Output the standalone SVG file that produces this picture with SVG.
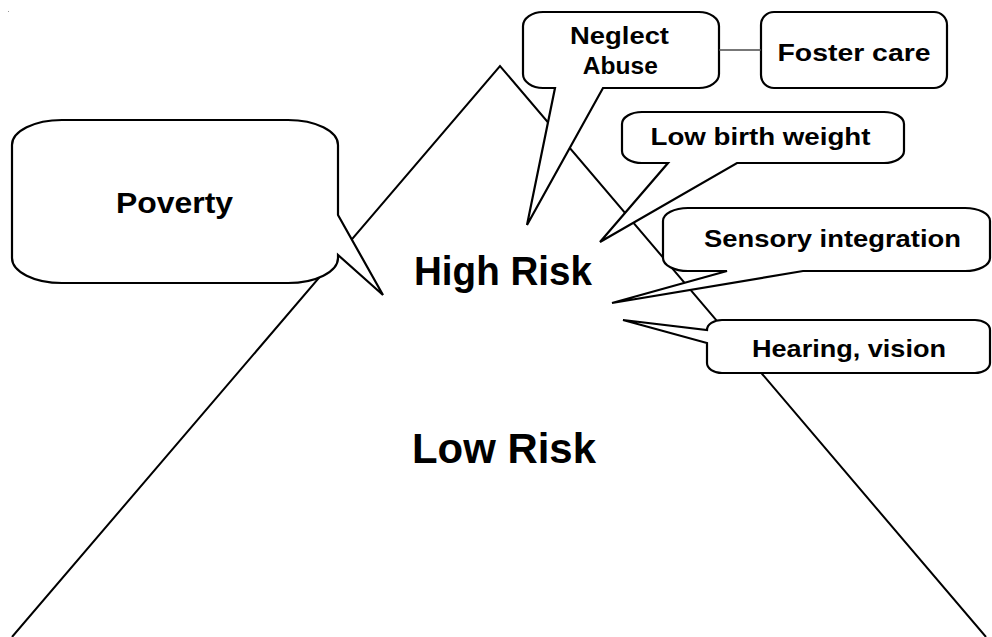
<svg xmlns="http://www.w3.org/2000/svg" width="992" height="637" viewBox="0 0 992 637">
<style>
.bg{fill:#ffffff}
.tri{fill:none;stroke:#000;stroke-width:2;stroke-linejoin:miter}
.call{fill:#ffffff;stroke:#000;stroke-width:2.2;stroke-linejoin:miter}
.conn{stroke:#4a4a4a;stroke-width:1.6;fill:none}
text{font-family:"Liberation Sans",Arial,sans-serif;font-weight:bold;fill:#000;text-anchor:middle}
.big{font-size:41px}
.mid{font-size:30px}
.sm{font-size:23.5px}
</style>
<rect class="bg" x="0" y="0" width="992" height="637"/>
<rect x="8" y="11" width="1" height="1" fill="#999"/>
<g id="pyramid">
<polyline class="tri" points="12,637 500,66 986,637"/>
<text class="big" x="503" y="285" textLength="178" lengthAdjust="spacingAndGlyphs">High Risk</text>
<text class="big" x="504" y="463" style="font-size:43px" textLength="184" lengthAdjust="spacingAndGlyphs">Low Risk</text>
</g>
<g id="poverty">
<path class="call" d="M62,120 H288 A50,25 0 0 1 338,145 V215 L383,295 L338,255 V258 A50,25 0 0 1 288,283 H62 A50,25 0 0 1 12,258 V145 A50,25 0 0 1 62,120 Z"/>
<text class="mid" x="174.5" y="213" textLength="117" lengthAdjust="spacingAndGlyphs">Poverty</text>
</g>
<g id="neglect">
<path class="call" d="M543,12 H699 A20,14 0 0 1 719,26 V74 A20,14 0 0 1 699,88 H603 L527,225 L555,88 H543 A20,14 0 0 1 523,74 V26 A20,14 0 0 1 543,12 Z"/>
<text class="sm" x="619.5" y="44" textLength="99" lengthAdjust="spacingAndGlyphs">Neglect</text>
<text class="sm" x="620.3" y="73.5" textLength="75" lengthAdjust="spacingAndGlyphs">Abuse</text>
</g>
<g id="foster">
<rect class="call" x="761" y="12" width="186" height="76" rx="13" ry="13"/>
<text class="sm" x="854" y="61" textLength="153" lengthAdjust="spacingAndGlyphs">Foster care</text>
</g>
<g id="lowbirth">
<path class="call" d="M642,112 H884 A20,12 0 0 1 904,124 V151 A20,12 0 0 1 884,163 H737 L600,242 L668,163 H642 A20,12 0 0 1 622,151 V124 A20,12 0 0 1 642,112 Z"/>
<text class="sm" x="760.5" y="145" style="font-size:23px" textLength="220" lengthAdjust="spacingAndGlyphs">Low birth weight</text>
</g>
<g id="sensory">
<path class="call" d="M688,208 H965 A25,13 0 0 1 990,221 V258 A25,13 0 0 1 965,271 H803 L612,303 L727,271 H688 A25,13 0 0 1 663,258 V221 A25,13 0 0 1 688,208 Z"/>
<text class="sm" x="832.5" y="246.5" textLength="257" lengthAdjust="spacingAndGlyphs">Sensory integration</text>
</g>
<g id="hearing">
<path class="call" d="M722,320 H975 A15,10 0 0 1 990,330 V363 A15,10 0 0 1 975,373 H722 A15,10 0 0 1 707,363 V343 L623,320 L707,330 A15,10 0 0 1 722,320 Z"/>
<text class="sm" x="849" y="356.7" style="font-size:24px" textLength="194" lengthAdjust="spacingAndGlyphs">Hearing, vision</text>
</g>
<g id="connectors">
<line class="conn" x1="719" y1="50" x2="761" y2="50"/>
</g>
</svg>
